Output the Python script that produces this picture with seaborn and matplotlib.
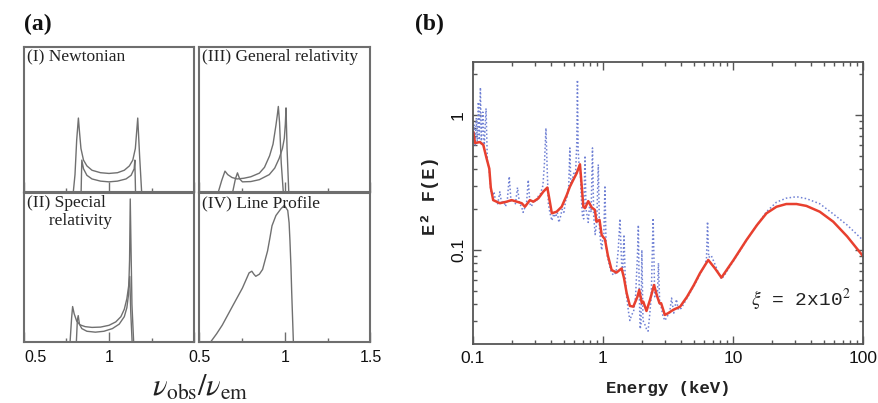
import matplotlib
matplotlib.use('Agg')
import matplotlib.pyplot as plt
from matplotlib.ticker import FixedLocator, NullFormatter, LogLocator
import seaborn as sns

# ---- panel (a): line profiles vs nu_obs/nu_em (flux as fraction of box height)
newt_nu_a = [0.50, 0.79, 0.80, 0.81, 0.82, 0.826, 0.835, 0.85, 0.87, 0.90, 0.95, 1.00,
             1.05, 1.09, 1.12, 1.14, 1.155, 1.163, 1.169, 1.18, 1.192, 1.50]
newt_f_a = [0, 0, 0.12, 0.36, 0.51, 0.42, 0.30, 0.22, 0.18, 0.15, 0.133, 0.128,
            0.133, 0.15, 0.18, 0.22, 0.30, 0.42, 0.51, 0.25, 0, 0]
newt_nu_b = [0.50, 0.836, 0.840, 0.85, 0.87, 0.90, 0.95, 1.00, 1.05, 1.10, 1.13, 1.148,
             1.152, 1.156, 1.50]
newt_f_b = [0, 0, 0.22, 0.16, 0.115, 0.09, 0.075, 0.07, 0.075, 0.09, 0.115, 0.16,
            0.22, 0, 0]

sr_nu_a = [0.50, 0.771, 0.780, 0.786, 0.795, 0.81, 0.83, 0.86, 0.90, 0.95, 1.00, 1.04,
           1.07, 1.09, 1.105, 1.115, 1.122, 1.128, 1.136, 1.50]
sr_f_a = [0, 0, 0.16, 0.238, 0.19, 0.14, 0.115, 0.103, 0.098, 0.10, 0.112, 0.135,
          0.17, 0.22, 0.29, 0.37, 0.44, 0.2, 0, 0]
sr_nu_b = [0.50, 0.808, 0.814, 0.819, 0.826, 0.84, 0.87, 0.92, 0.97, 1.02, 1.06, 1.09,
           1.105, 1.115, 1.121, 1.125, 1.130, 1.135, 1.145, 1.50]
sr_f_b = [0, 0, 0.15, 0.177, 0.12, 0.09, 0.072, 0.066, 0.072, 0.09, 0.12, 0.17,
          0.23, 0.32, 0.55, 0.96, 0.6, 0.25, 0, 0]

gr_nu_a = [0.50, 0.610, 0.630, 0.649, 0.665, 0.69, 0.72, 0.76, 0.80, 0.85, 0.88, 0.91,
           0.93, 0.947, 0.955, 0.961, 0.968, 0.978, 0.990, 1.50]
gr_f_a = [0, 0, 0.08, 0.144, 0.12, 0.10, 0.09, 0.095, 0.105, 0.13, 0.17, 0.25,
          0.33, 0.46, 0.53, 0.59, 0.48, 0.2, 0, 0]
gr_nu_b = [0.50, 0.694, 0.710, 0.722, 0.735, 0.751, 0.80, 0.85, 0.908, 0.94, 0.966,
           0.985, 0.996, 1.002, 1.006, 1.012, 1.022, 1.50]
gr_f_b = [0, 0, 0.09, 0.132, 0.09, 0.07, 0.072, 0.085, 0.12, 0.165, 0.232,
          0.30, 0.37, 0.47, 0.58, 0.3, 0, 0]

lp_nu = [0.50, 0.565, 0.60, 0.633, 0.692, 0.751, 0.790, 0.806, 0.818, 0.829, 0.850,
         0.869, 0.898, 0.912, 0.924, 0.947, 0.976, 0.996, 1.016, 1.024, 1.029, 1.035,
         1.039, 1.049, 1.50]
lp_f = [0, 0, 0.055, 0.113, 0.238, 0.362, 0.464, 0.475, 0.455, 0.441, 0.455,
        0.487, 0.611, 0.70, 0.78, 0.849, 0.894, 0.917, 0.883, 0.80, 0.679, 0.5,
        0.34, 0, 0]

# ---- panel (b): E^2 F(E) spectrum, xi = 2x10^2
red_E = [0.1005, 0.1036, 0.113, 0.120, 0.127, 0.1335, 0.137, 0.143, 0.161, 0.182,
         0.198, 0.217, 0.237, 0.251, 0.274, 0.291, 0.318, 0.347, 0.373, 0.386,
         0.404, 0.440, 0.481, 0.526, 0.556, 0.590, 0.627, 0.665, 0.685, 0.706,
         0.727, 0.770, 0.820, 0.866, 0.890, 0.940, 0.977, 1.035, 1.09, 1.165,
         1.27, 1.39, 1.45, 1.52, 1.61, 1.71, 1.84, 1.90, 1.99, 2.04,
         2.16, 2.30, 2.47, 2.59, 2.72, 2.80, 2.99, 3.17, 3.47, 3.92,
         4.43, 5.0, 5.57, 6.45, 7.27, 8.15, 9.5, 10.1, 12.7, 15.3,
         18.1, 21.6, 25.7, 30.8, 36.7, 46.5, 59.0, 75.5, 100]
red_F = [0.75, 0.62, 0.63, 0.60, 0.48, 0.40, 0.29, 0.234, 0.222, 0.228,
         0.234, 0.228, 0.222, 0.209, 0.234, 0.228, 0.241, 0.270, 0.290, 0.241,
         0.187, 0.192, 0.209, 0.255, 0.294, 0.330, 0.370, 0.431, 0.303, 0.209,
         0.204, 0.230, 0.206, 0.198, 0.162, 0.167, 0.129, 0.120, 0.091, 0.071,
         0.068, 0.073, 0.062, 0.048, 0.0385, 0.038, 0.045, 0.0506, 0.0403, 0.0414,
         0.0353, 0.0427, 0.055, 0.0464, 0.0403, 0.0403, 0.033, 0.034, 0.036, 0.038,
         0.045, 0.055, 0.0672, 0.0843, 0.073, 0.0624, 0.0774, 0.0843, 0.1186, 0.153,
         0.187, 0.209, 0.219, 0.219, 0.212, 0.192, 0.162, 0.126, 0.090]

blue_E = [0.100, 0.102, 0.104, 0.106, 0.108, 0.110, 0.112, 0.114, 0.116, 0.119,
          0.122, 0.126, 0.129, 0.133, 0.137, 0.141, 0.145, 0.149, 0.155, 0.161,
          0.166, 0.172, 0.178, 0.184, 0.190, 0.196, 0.204, 0.212, 0.220, 0.228,
          0.236, 0.243, 0.250, 0.258, 0.266, 0.274, 0.282, 0.292, 0.304, 0.318,
          0.330, 0.345, 0.355, 0.364, 0.372, 0.380, 0.390, 0.404, 0.418, 0.432,
          0.445, 0.458, 0.470, 0.485, 0.500, 0.515, 0.530, 0.545, 0.556, 0.566,
          0.580, 0.600, 0.615, 0.628, 0.636, 0.644, 0.655, 0.668, 0.680, 0.695,
          0.710, 0.727, 0.740, 0.755, 0.770, 0.790, 0.810, 0.830, 0.848, 0.870,
          0.895, 0.920, 0.940, 0.960, 0.977, 0.995, 1.015, 1.035, 1.055, 1.08,
          1.11, 1.15, 1.20, 1.26, 1.31, 1.35, 1.39, 1.42, 1.45, 1.48,
          1.52, 1.57, 1.61, 1.66, 1.72, 1.78, 1.84, 1.87, 1.90, 1.93,
          1.96, 1.99, 2.03, 2.10, 2.16, 2.22, 2.28, 2.35, 2.43, 2.50,
          2.57, 2.62, 2.67, 2.73, 2.80, 2.90, 3.00, 3.10, 3.25, 3.37,
          3.50, 3.67, 3.80, 4.00, 4.43, 5.00, 5.57, 6.00, 6.25, 6.37,
          6.50, 6.80, 7.20, 7.70, 8.15, 8.60, 9.50, 10.1, 12.7, 15.3,
          18.1, 21.6, 25.7, 30.8, 36.7, 46.5, 59.0, 75.5, 100]
blue_F = [0.70, 0.85, 0.60, 0.95, 0.62, 1.25, 0.63, 1.60, 0.60, 1.05,
          0.58, 1.12, 0.45, 0.40, 0.28, 0.25, 0.27, 0.23, 0.22, 0.27,
          0.22, 0.23, 0.21, 0.24, 0.35, 0.23, 0.235, 0.22, 0.29, 0.22,
          0.21, 0.19, 0.205, 0.22, 0.33, 0.22, 0.21, 0.235, 0.225, 0.25,
          0.26, 0.30, 0.45, 0.80, 0.40, 0.22, 0.19, 0.165, 0.185, 0.175,
          0.19, 0.16, 0.175, 0.20, 0.19, 0.23, 0.25, 0.30, 0.57, 0.30,
          0.33, 0.38, 0.37, 0.60, 1.82, 0.55, 0.42, 0.40, 0.25, 0.18,
          0.17, 0.50, 0.20, 0.18, 0.16, 0.22, 0.19, 0.57, 0.18, 0.13,
          0.16, 0.43, 0.14, 0.115, 0.10, 0.12, 0.13, 0.30, 0.11, 0.09,
          0.08, 0.07, 0.065, 0.068, 0.10, 0.17, 0.08, 0.07, 0.13, 0.065,
          0.045, 0.035, 0.030, 0.033, 0.035, 0.045, 0.09, 0.153, 0.05, 0.026,
          0.028, 0.10, 0.03, 0.028, 0.026, 0.025, 0.032, 0.045, 0.172, 0.045,
          0.05, 0.045, 0.080, 0.04, 0.038, 0.032, 0.030, 0.032, 0.034, 0.044,
          0.034, 0.043, 0.036, 0.037, 0.044, 0.054, 0.066, 0.075, 0.085, 0.162,
          0.088, 0.091, 0.080, 0.068, 0.061, 0.065, 0.076, 0.083, 0.118, 0.153,
          0.192, 0.226, 0.242, 0.248, 0.240, 0.220, 0.185, 0.153, 0.118]

panel_titles = ['(I) Newtonian', '(III) General relativity',
                '(II) Special\n     relativity', '(IV) Line Profile']

sns.set_theme(style='white')
plt.rcParams['font.family'] = ['Liberation Sans', 'DejaVu Sans']
plt.rcParams['mathtext.fontset'] = 'stix'

W, H = 879, 403
fig = plt.figure(figsize=(W / 100, H / 100), dpi=100)


def box(l, t, r, b):
    return [l / W, 1 - b / H, (r - l) / W, (b - t) / H]


grey = '#6e6e6e'
frames = [box(24, 47, 194, 192), box(199.5, 47, 370.5, 192),
          box(24, 193, 194, 342), box(199.5, 193, 370.5, 342)]
curves = [[(newt_nu_a, newt_f_a), (newt_nu_b, newt_f_b)],
          [(gr_nu_a, gr_f_a), (gr_nu_b, gr_f_b)],
          [(sr_nu_a, sr_f_a), (sr_nu_b, sr_f_b)],
          [(lp_nu, lp_f)]]

for i, pos in enumerate(frames):
    ax = fig.add_axes(pos)
    for nu, f in curves[i]:
        sns.lineplot(x=nu, y=f, ax=ax, estimator=None, sort=False,
                     color='#707070', lw=1.0)
    ax.set_xlim(0.5, 1.5)
    ax.set_ylim(0, 1)
    ax.set_yticks([])
    ax.xaxis.set_major_locator(FixedLocator([0.5, 1.0, 1.5]))
    ax.xaxis.set_minor_locator(FixedLocator([0.75, 1.25]))
    ax.tick_params(which='major', axis='x', direction='in', length=7.5, width=1,
                   color=grey, bottom=True, pad=6, labelsize=11.5, labelcolor='#111')
    ax.tick_params(which='minor', axis='x', direction='in', length=2.6, width=1,
                   color=grey, bottom=True)
    for s in ax.spines.values():
        s.set_color(grey)
        s.set_linewidth(1.5)
    if i == 2:
        ax.set_xticklabels(['0.5', '1', ''])
        ax.get_xticklabels()[0].set_ha('left')
    elif i == 3:
        ax.set_xticklabels(['0.5', '1', '1.5'])
    else:
        ax.set_xticklabels([])
    ax.text(0.015, 0.985, panel_titles[i], transform=ax.transAxes, ha='left', va='top',
            family='Liberation Serif', fontsize=12.5, color='#222', linespacing=1.15)

fig.text(24 / W, 1 - 30 / H, '(a)', family='Liberation Serif', weight='bold',
         fontsize=17, color='#111')
fig.text(415 / W, 1 - 30 / H, '(b)', family='Liberation Serif', weight='bold',
         fontsize=17, color='#111')
fig.text(200 / W, 1 - 396 / H, r'$\nu_{\rm obs}/\nu_{\rm em}$', ha='center',
         va='baseline', fontsize=22, color='#222')

# ---- panel (b)
axb = fig.add_axes(box(473, 62, 863, 344))
sns.lineplot(x=blue_E, y=blue_F, ax=axb, estimator=None, sort=False,
             color='#6f80d4', lw=1.1, linestyle=(0, (1, 1.5)))
sns.lineplot(x=red_E, y=red_F, ax=axb, estimator=None, sort=False,
             color='#e8402f', lw=1.8)
axb.set_xscale('log')
axb.set_yscale('log')
axb.set_xlim(0.1, 100)
axb.set_ylim(0.0201, 2.47)
axb.xaxis.set_major_locator(FixedLocator([0.1, 1, 10, 100]))
axb.set_xticklabels(['0.1', '1', '10', '100'])
axb.xaxis.set_minor_locator(LogLocator(base=10, subs=range(2, 10)))
axb.xaxis.set_minor_formatter(NullFormatter())
axb.yaxis.set_major_locator(FixedLocator([0.1, 1]))
axb.set_yticklabels(['0.1', '1'])
axb.yaxis.set_minor_locator(LogLocator(base=10, subs=range(2, 10)))
axb.yaxis.set_minor_formatter(NullFormatter())
axb.tick_params(which='both', direction='in', top=True, right=True, bottom=True,
                left=True, color='#555', width=1)
axb.tick_params(which='major', length=5.5, labelsize=12.5, labelcolor='#111', pad=5)
axb.tick_params(which='minor', length=3)
axb.tick_params(axis='y', labelrotation=90)
for lab in axb.get_yticklabels():
    lab.set_va('center')
for s in axb.spines.values():
    s.set_color('#555')
    s.set_linewidth(1.3)
axb.set_xlabel('Energy (keV)', family='Liberation Mono', weight='bold',
               fontsize=12.5, color='#222', labelpad=11)
axb.set_ylabel('')
fig.text(430 / W, 1 - 196 / H, 'E² F(E)', rotation=90, ha='center', va='center',
         family='Liberation Mono', weight='bold', fontsize=13.5, color='#222')
axb.text(0.967, 0.156, r'$\xi$ = 2x10$^2$', transform=axb.transAxes, ha='right',
         va='center', family='Liberation Mono', fontsize=14, color='#222')

fig.savefig('out.png', dpi=100)
